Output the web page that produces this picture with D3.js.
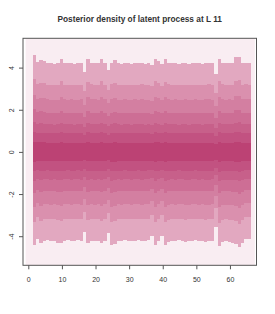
<!DOCTYPE html>
<html>
  <head>
    <meta charset="utf-8">
    <title>Posterior density of latent process</title>
    <script type="text/javascript" src="https://cdn.jsdelivr.net/npm/d3@7"></script>
    <style>
      body { margin: 0; background: #fff; }
      text { font-family: "Liberation Sans", Arial, sans-serif; fill: #333; }
    </style>
  </head>
  <body>
    <script type="text/javascript">
     // time points (one column each)
     let times = d3.range(1, 66);

     // outer edge of the coloured bands, read per column
     let upperEdge = [
       4.58, 4.28, 4.36, 4.33, 4.22, 4.20, 4.18, 4.20, 4.43, 4.22,
       4.20, 4.22, 4.18, 4.20, 4.22, 3.80, 4.42, 4.24, 4.22, 4.20,
       4.43, 4.22, 3.90, 4.24, 4.35, 4.20, 4.18, 4.22, 4.20, 4.18,
       4.22, 4.20, 4.24, 4.18, 4.20, 4.12, 4.43, 4.30, 4.16, 4.39,
       4.24, 4.20, 4.22, 4.18, 4.20, 4.22, 4.18, 4.20, 4.22, 4.20,
       4.18, 4.22, 4.24, 4.20, 3.70, 4.43, 4.24, 4.20, 4.22, 4.20,
       4.48, 4.52, 4.22, 4.24, 4.22
     ];
     let lowerEdge = [
       -4.41, -4.12, -4.33, -4.22, -4.20, -4.24, -4.22, -4.30, -4.33, -4.22,
       -4.20, -4.24, -4.22, -4.20, -4.24, -3.78, -4.30, -4.22, -4.24, -4.22,
       -4.33, -4.22, -3.87, -4.41, -4.35, -4.22, -4.24, -4.20, -4.22, -4.24,
       -4.22, -4.20, -4.24, -4.22, -4.20, -3.98, -4.41, -4.22, -3.98, -4.41,
       -4.26, -4.22, -4.24, -4.20, -4.22, -4.26, -4.24, -4.22, -4.20, -4.24,
       -4.22, -4.26, -4.24, -4.22, -3.54, -4.46, -4.26, -4.24, -4.26, -4.30,
       -4.35, -4.50, -4.30, -4.12, -4.12
     ];

     // inner band edges as share of the outer edge, outside -> centre
     let bandShare = [1.0, 0.755, 0.59, 0.44, 0.31, 0.21, 0.105];
     let bandColors = ["#e2a8c0", "#da90ae", "#d37fa1", "#cd6e95", "#c7608a", "#c25281", "#bc4274"];
     let backColor = "#f9edf2";

     let xTicks = [0, 10, 20, 30, 40, 50, 60];
     let yTicks = [-4, -2, 0, 2, 4];

     // set the canvas
     let w = 275;
     let h = 314;
     let box = {left: 23, right: 256.5, top: 38.3, bottom: 265.3};

     let svg = d3.select("body").append("svg")
		 .attr("width", w)
		 .attr("height", h)
		 .style("display", "block");

     let xScale = d3.scaleLinear()
		    .domain([-1.58, 67.9])
		    .range([box.left, box.right]);
     let yScale = d3.scaleLinear()
		    .domain([-5.38, 5.39])
		    .range([box.bottom, box.top]);

     // faint background level
     svg.append("rect")
	.attr("x", xScale(-0.8))
	.attr("y", box.top)
	.attr("width", xScale(67.4) - xScale(-0.8))
	.attr("height", box.bottom - box.top)
	.attr("fill", backColor);

     // the bands, painted from the outside in
     let cols = svg.append("g")
		   .attr("shape-rendering", "crispEdges")
		   .selectAll("g")
		   .data(times)
		   .enter()
		   .append("g");

     bandShare.forEach((s, k) => {
       cols.append("rect")
	   .attr("x", (d) => {return xScale(d + 0.3);})
	   .attr("width", (d) => {return xScale(d + 1.3) - xScale(d + 0.3);})
	   .attr("y", (d, i) => {return yScale(upperEdge[i] * s);})
	   .attr("height", (d, i) => {return yScale(lowerEdge[i] * s) - yScale(upperEdge[i] * s);})
	   .attr("fill", bandColors[k]);
     });

     // box
     svg.append("rect")
	.attr("x", box.left)
	.attr("y", box.top)
	.attr("width", box.right - box.left)
	.attr("height", box.bottom - box.top)
	.attr("fill", "none")
	.attr("stroke", "#555")
	.attr("stroke-width", 1);

     // axes
     let xAxis = d3.axisBottom(xScale)
		   .tickValues(xTicks)
		   .tickSize(4)
		   .tickPadding(8);
     let gx = svg.append("g")
		 .attr("transform", "translate(0, " + box.bottom + ")")
		 .call(xAxis);
     gx.select(".domain").remove();
     gx.selectAll(".tick line").attr("stroke", "#555");
     gx.selectAll(".tick text")
       .attr("font-size", 7)
       .attr("font-family", null)
       .attr("fill", "#333");

     let yAxis = d3.axisLeft(yScale)
		   .tickValues(yTicks)
		   .tickSize(4)
		   .tickFormat((d) => {return d;});
     let gy = svg.append("g")
		 .attr("transform", "translate(" + box.left + ", 0)")
		 .call(yAxis);
     gy.select(".domain").remove();
     gy.selectAll(".tick line").attr("stroke", "#555");
     gy.selectAll(".tick text")
       .attr("x", null)
       .attr("dy", null)
       .attr("font-size", 7)
       .attr("font-family", null)
       .attr("fill", "#333")
       .attr("text-anchor", "middle")
       .attr("transform", "translate(-8.8, 0) rotate(-90)");

     // title
     svg.append("text")
	.attr("x", (box.left + box.right) / 2)
	.attr("y", 22)
	.attr("text-anchor", "middle")
	.attr("font-size", 8.3)
	.attr("font-weight", "bold")
	.attr("fill", "#000")
	.text("Posterior density of latent process at L 11");
    </script>
  </body>
</html>
